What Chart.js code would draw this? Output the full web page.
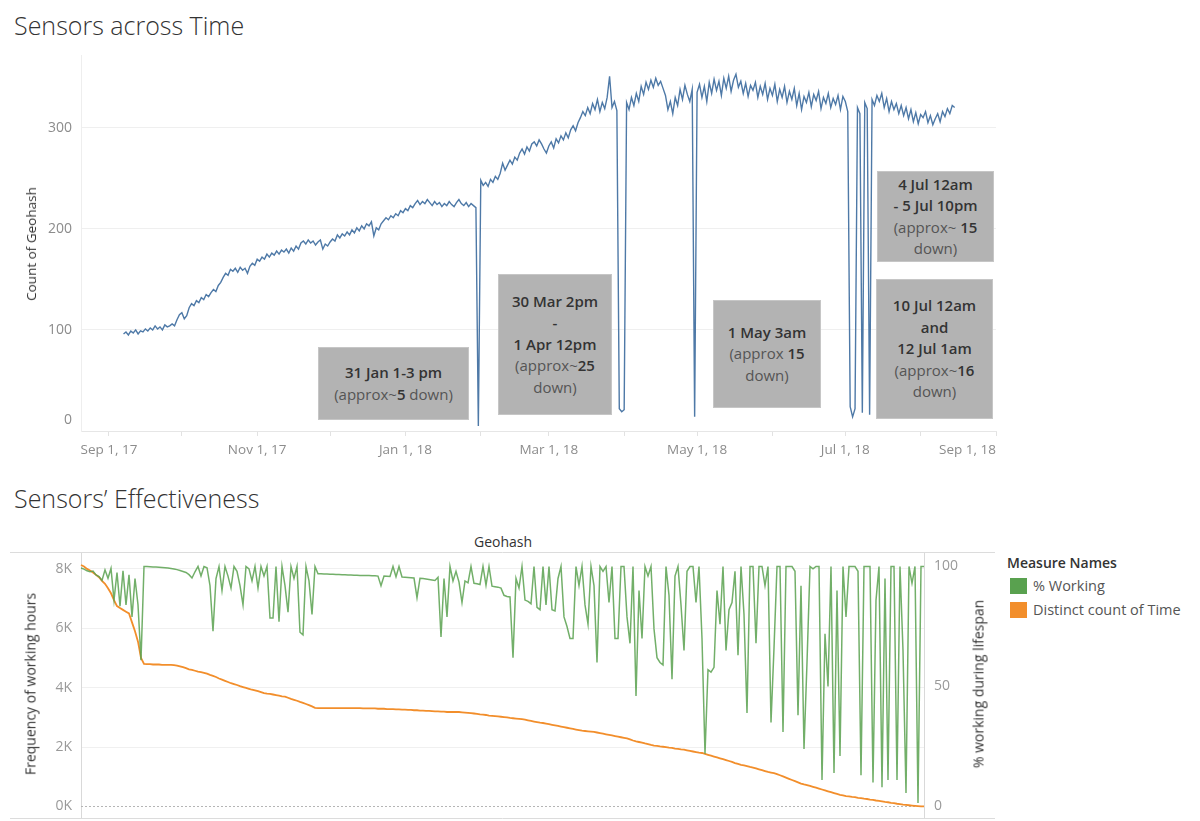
<!DOCTYPE html>
<html>
<head>
<meta charset="utf-8">
<title>Sensors</title>
<script src="https://cdn.jsdelivr.net/npm/chart.js@4.4.1/dist/chart.umd.min.js"></script>
<style>
    body {
        margin: 0;
        width: 1200px;
        height: 821px;
        background: #fff;
        font-family: "Open Sans", sans-serif;
        position: relative;
        overflow: hidden;
    }
    .title {
        position: absolute;
        left: 14px;
        font-size: 25px;
        line-height: 30px;
        color: #333;
        font-weight: 300;
    }
    #topWrap { position: absolute; left: 0; top: 40px; width: 1000px; height: 440px; }
    #bottomWrap { position: absolute; left: 0; top: 515px; width: 995px; height: 306px; }
    .axisTitle {
        position: absolute;
        font-size: 14px;
        color: #333;
        white-space: nowrap;
        transform: translate(-50%, -50%) rotate(-90deg);
    }
    .note {
        position: absolute;
        box-sizing: border-box;
        background: #b3b3b3;
        border: 1px solid #c6c6c6;
        display: flex;
        flex-direction: column;
        justify-content: center;
        align-items: center;
        text-align: center;
        font-size: 15px;
        line-height: 21.5px;
        color: #555;
    }
    .note b { color: #333; font-weight: 600; }
    .header { position: absolute; font-size: 14px; color: #333; transform: translate(-50%, -50%); }
    .legendTitle { position: absolute; left: 1007px; top: 553px; font-size: 14px; font-weight: 600; color: #333; }
    .swatch { position: absolute; left: 1010px; width: 17px; height: 16px; }
    .legendText { position: absolute; left: 1033px; font-size: 14.5px; color: #555; }
</style>
</head>
<body>

<div class="title" style="top: 10px;">Sensors across Time</div>
<div id="topWrap"><canvas id="timeChart"></canvas></div>
<div class="axisTitle" style="left: 31px; top: 244px; font-size: 13.5px;">Count of Geohash</div>

<div class="note" style="left: 318px; top: 347px; width: 151px; height: 73px;">
    <div><b>31 Jan 1-3 pm</b></div>
    <div>(approx~<b>5</b> down)</div>
</div>
<div class="note" style="left: 498px; top: 274px; width: 114px; height: 141px;">
    <div><b>30 Mar 2pm</b></div>
    <div><b>-</b></div>
    <div><b>1 Apr 12pm</b></div>
    <div>(approx~<b>25</b></div>
    <div>down)</div>
</div>
<div class="note" style="left: 713px; top: 300px; width: 108px; height: 108px;">
    <div><b>1 May 3am</b></div>
    <div>(approx <b>15</b></div>
    <div>down)</div>
</div>
<div class="note" style="left: 877px; top: 171px; width: 117px; height: 91px;">
    <div><b>4 Jul 12am</b></div>
    <div><b>- 5 Jul 10pm</b></div>
    <div>(approx~ <b>15</b></div>
    <div>down)</div>
</div>
<div class="note" style="left: 876px; top: 279px; width: 117px; height: 140px;">
    <div><b>10 Jul 12am</b></div>
    <div><b>and</b></div>
    <div><b>12 Jul 1am</b></div>
    <div>(approx~<b>16</b></div>
    <div>down)</div>
</div>

<div class="title" style="top: 483px;">Sensors’ Effectiveness</div>
<div class="header" style="left: 503px; top: 541px;">Geohash</div>
<div id="bottomWrap"><canvas id="effChart"></canvas></div>
<div class="axisTitle" style="left: 30px; top: 684px;">Frequency of working hours</div>
<div class="axisTitle" style="left: 978px; top: 684px;">% working during lifespan</div>

<div class="legendTitle">Measure Names</div>
<div class="swatch" style="top: 578px; background: #59a14f;"></div>
<div class="legendText" style="top: 576px;">% Working</div>
<div class="swatch" style="top: 602px; background: #f28e2b;"></div>
<div class="legendText" style="top: 600px;">Distinct count of Time</div>

<script>
// Sensors across Time: one value per day, first value on day 6 after Sep 1, 17
const firstDay = 6;
const sensorCounts = [
    96, 98, 95, 99, 97, 100, 96, 99, 98, 101,        // day 6
    99, 102, 100, 104, 101, 103, 100, 105, 103, 104,
    106, 104, 110, 115, 117, 111, 114, 122, 126, 124,
    129, 127, 132, 130, 135, 133, 137, 140, 138, 144,
    147, 152, 156, 154, 160, 158, 161, 157, 162, 159,
    161, 156, 163, 166, 164, 170, 168, 172, 170, 175, // day 56
    172, 176, 174, 178, 175, 179, 177, 180, 176, 181,
    178, 183, 180, 186, 188, 185, 189, 186, 188, 184,
    187, 189, 180, 185, 183, 187, 190, 188, 194, 191,
    195, 193, 197, 194, 199, 196, 201, 198, 203, 200,
    205, 203, 207, 193, 201, 199, 205, 208, 211, 209, // day 106
    213, 211, 215, 213, 218, 216, 220, 218, 223, 221,
    225, 228, 224, 227, 225, 229, 226, 223, 227, 224,
    226, 222, 225, 223, 227, 224, 222, 226, 229, 225,
    223, 226, 222, 225, 223, 221, 5, 248, 243, 246,
    242, 249, 246, 252, 249, 255, 265, 258, 263, 268, // day 156
    264, 271, 268, 275, 279, 274, 281, 277, 284, 286,
    282, 288, 284, 279, 275, 282, 286, 280, 289, 285,
    292, 288, 295, 290, 298, 302, 297, 305, 310, 316,
    312, 320, 314, 324, 318, 328, 316, 325, 319, 330,
    351, 320, 326, 317, 22, 19, 21, 325, 318, 330,    // day 206
    322, 334, 326, 341, 333, 345, 338, 347, 340, 349,
    342, 346, 339, 332, 318, 326, 314, 330, 322, 338,
    328, 342, 333, 326, 338, 14, 335, 343, 330, 341,
    326, 345, 334, 348, 337, 346, 332, 349, 339, 351,
    336, 347, 353, 340, 346, 334, 344, 331, 342, 337, // day 256
    345, 330, 341, 333, 344, 328, 339, 332, 343, 326,
    338, 330, 341, 325, 336, 328, 339, 322, 334, 318,
    331, 325, 335, 321, 333, 327, 336, 319, 330, 324,
    334, 320, 329, 323, 332, 318, 331, 326, 316, 24,
    14, 22, 320, 314, 18, 325, 319, 16, 328, 322,     // day 306
    332, 326, 334, 320, 329, 316, 326, 318, 324, 314,
    322, 312, 320, 309, 318, 306, 315, 304, 313, 310,
    316, 305, 312, 303, 309, 314, 306, 316, 311, 319,
    314, 322, 320
];
const monthTickDays = [0, 30, 61, 91, 122, 153, 181, 212, 242, 273, 303, 334, 365];
const labelDays = [0, 61, 122, 181, 242, 303, 365];
const tickLabels = ['Sep 1, 17', 'Nov 1, 17', 'Jan 1, 18', 'Mar 1, 18', 'May 1, 18', 'Jul 1, 18', 'Sep 1, 18'];
const countTicks = [0, 100, 200, 300];

// Sensors' Effectiveness: one value per geohash, sorted by distinct count of time
const percentWorking = [
    99.4, 98.9, 98.2, 97.8, 98.1, 96.5, 95.8, 94.2, 98.6, 95.1,
    99.2, 86, 97.5, 83.5, 98.2, 84, 96.5, 79, 95, 84,
    61, 100, 100, 99.9, 99.8, 99.8, 99.7, 99.6, 99.5, 99.4,
    99.2, 99, 98.7, 98.3, 97.9, 97.5, 96.6, 95.2, 97.8, 100,
    96, 100, 99.5, 92, 73, 95, 100, 90, 100, 96,
    91, 100, 98, 92, 84, 100, 99, 94, 100, 91,
    100, 96, 100, 78.5, 78.5, 100, 77, 100, 92, 81,
    100, 95, 100, 72.6, 71.5, 100, 94, 80, 100, 97,
    97, 96.9, 96.9, 96.8, 96.8, 96.7, 96.7, 96.6, 96.6, 96.5,
    96.5, 96.4, 96.4, 96.3, 96.3, 96.2, 96.2, 96.1, 96.1, 96,
    92, 96, 95.9, 95.8, 100, 95.7, 100, 95.6, 95.5, 95.4,
    95.3, 95.2, 87, 95.1, 95, 94.8, 94.6, 94.4, 94.2, 95.5,
    70.6, 95, 79, 100, 94, 98, 93.5, 85, 94, 93.2,
    100, 93, 92.8, 92.5, 100, 92.2, 100, 91.8, 91.6, 91.4,
    91, 88, 87.5, 87.3, 62, 95, 91, 100, 86, 85.5,
    84.5, 100, 83, 82, 100, 84, 100, 82, 81.5, 95,
    100, 79, 75, 70, 70, 100, 92, 100, 84, 76,
    100, 92, 60, 100, 98, 100, 85, 100, 70, 70,
    100, 100, 79, 68, 100, 46, 90, 70, 100, 96,
    100, 74, 62, 60, 59, 100, 88, 53, 96, 100,
    84, 65, 98, 100, 100, 85, 100, 70, 22, 57,
    56, 58, 90, 76, 100, 65, 82, 85, 98, 63,
    100, 80, 39, 100, 100, 68, 100, 100, 92, 100,
    35, 66, 100, 100, 31, 100, 100, 100, 98, 38,
    92, 24, 60, 100, 99, 100, 100, 11, 72, 50,
    100, 14, 90, 21, 100, 79, 100, 100, 100, 98,
    13, 100, 100, 100, 10, 86, 100, 8, 95, 11,
    100, 100, 11, 100, 65, 5.6, 100, 93, 100, 1.5,
    100, 100
];
const distinctTimeK = [
    8.13, 8.08, 8.0, 7.95, 7.88, 7.8, 7.72, 7.6, 7.5, 7.35,
    7.18, 6.95, 6.75, 6.68, 6.62, 6.56, 6.5, 6.2, 5.9, 5.55,
    5.0, 4.8, 4.79, 4.79, 4.78, 4.78, 4.78, 4.77, 4.77, 4.77,
    4.77, 4.76, 4.74, 4.72, 4.69, 4.66, 4.62, 4.60, 4.57, 4.54,
    4.52, 4.5, 4.47, 4.43, 4.40, 4.36, 4.31, 4.27, 4.23, 4.19,
    4.15, 4.12, 4.09, 4.05, 4.02, 3.99, 3.96, 3.93, 3.91, 3.88,
    3.85, 3.82, 3.80, 3.79, 3.77, 3.75, 3.73, 3.71, 3.70, 3.66,
    3.62, 3.59, 3.56, 3.52, 3.49, 3.45, 3.41, 3.37, 3.32, 3.31,
    3.31, 3.31, 3.31, 3.31, 3.31, 3.31, 3.31, 3.31, 3.31, 3.31,
    3.31, 3.31, 3.31, 3.31, 3.30, 3.30, 3.30, 3.30, 3.30, 3.29,
    3.29, 3.29, 3.28, 3.28, 3.28, 3.27, 3.27, 3.26, 3.26, 3.25,
    3.25, 3.24, 3.24, 3.23, 3.23, 3.22, 3.22, 3.21, 3.20, 3.20,
    3.19, 3.19, 3.18, 3.18, 3.18, 3.18, 3.18, 3.17, 3.16, 3.15,
    3.14, 3.13, 3.12, 3.10, 3.09, 3.08, 3.06, 3.05, 3.04, 3.03,
    3.02, 3.01, 3.00, 2.98, 2.97, 2.96, 2.95, 2.94, 2.92, 2.90,
    2.88, 2.86, 2.84, 2.82, 2.81, 2.79, 2.77, 2.75, 2.73, 2.71,
    2.69, 2.67, 2.65, 2.63, 2.61, 2.59, 2.57, 2.55, 2.54, 2.53,
    2.52, 2.51, 2.49, 2.47, 2.45, 2.43, 2.41, 2.39, 2.37, 2.35,
    2.33, 2.31, 2.29, 2.26, 2.22, 2.19, 2.17, 2.15, 2.12, 2.10,
    2.07, 2.05, 2.04, 2.02, 2.01, 2.00, 1.98, 1.97, 1.95, 1.94,
    1.92, 1.91, 1.89, 1.87, 1.85, 1.83, 1.81, 1.80, 1.77, 1.74,
    1.71, 1.68, 1.65, 1.62, 1.59, 1.56, 1.53, 1.50, 1.46, 1.43,
    1.40, 1.38, 1.36, 1.33, 1.31, 1.28, 1.25, 1.22, 1.19, 1.16,
    1.14, 1.12, 1.09, 1.05, 1.01, 0.97, 0.93, 0.89, 0.85, 0.81,
    0.77, 0.74, 0.72, 0.69, 0.66, 0.63, 0.60, 0.57, 0.54, 0.51,
    0.48, 0.45, 0.42, 0.39, 0.37, 0.35, 0.34, 0.32, 0.31, 0.29,
    0.28, 0.26, 0.25, 0.23, 0.22, 0.20, 0.19, 0.17, 0.15, 0.14,
    0.12, 0.11, 0.09, 0.08, 0.06, 0.05, 0.04, 0.03, 0.02, 0.01,
    0.0, 0.0
];
const hoursTicksK = [0, 2, 4, 6, 8];
const percentTicks = [0, 50, 100];

const TICK_FONT = '"Open Sans", sans-serif';

// Tick labels for the time chart, kept inside the plot like Tableau does
const timeLabelsPlugin = {
    id: 'timeLabels',
    afterDraw(chart) {
        const { ctx, chartArea } = chart;
        const x = chart.scales.x;
        const y = chart.scales.y;
        ctx.save();
        ctx.font = '13.5px ' + TICK_FONT;
        ctx.fillStyle = '#8c8c8c';
        ctx.textBaseline = 'middle';
        ctx.textAlign = 'center';
        labelDays.forEach((d, i) => {
            const w = ctx.measureText(tickLabels[i]).width;
            const px = Math.min(x.getPixelForValue(d), chartArea.right - w / 2);
            ctx.fillText(tickLabels[i], px, chartArea.bottom + 19);
        });
        ctx.font = '14px ' + TICK_FONT;
        ctx.textAlign = 'right';
        countTicks.forEach(v => {
            const py = Math.min(y.getPixelForValue(v), chartArea.bottom - 11);
            ctx.fillText(String(v), chartArea.left - 9, py);
        });
        ctx.restore();
    }
};

function setupTimeChart() {
    const ctx = document.getElementById('timeChart').getContext('2d');
    new Chart(ctx, {
        type: 'line',
        data: {
            datasets: [{
                label: 'Count of Geohash',
                data: sensorCounts.map((v, i) => ({ x: firstDay + i, y: v })),
                borderColor: '#4e79a7',
                borderWidth: 1.4,
                pointRadius: 0,
                tension: 0,
                fill: false
            }]
        },
        options: {
            responsive: true,
            maintainAspectRatio: false,
            animation: false,
            layout: { padding: { top: 15, right: 4 } },
            plugins: { legend: { display: false }, tooltip: { enabled: false } },
            scales: {
                x: {
                    type: 'linear',
                    min: -11.5,
                    max: 365,
                    afterBuildTicks: s => { s.ticks = monthTickDays.map(v => ({ value: v })); },
                    afterFit: s => { s.height = 49; },
                    ticks: { display: false },
                    grid: { drawOnChartArea: false, drawTicks: true, tickLength: 5, tickColor: '#e2e2e2' },
                    border: { color: '#e6e6e6' }
                },
                y: {
                    min: 0,
                    max: 372,
                    afterBuildTicks: s => { s.ticks = countTicks.map(v => ({ value: v })); },
                    afterFit: s => { s.width = 81; },
                    ticks: { display: false },
                    grid: {
                        drawTicks: false,
                        color: c => (c.tick && c.tick.value === 0) ? 'rgba(0,0,0,0)' : '#efefef'
                    },
                    border: { color: '#eeeeee' }
                }
            }
        },
        plugins: [timeLabelsPlugin]
    });
}

// Frame lines of the Tableau pane and the dotted zero line
const paneFramePlugin = {
    id: 'paneFrame',
    beforeDatasetsDraw(chart) {
        const { ctx, chartArea } = chart;
        const zeroY = chart.scales.yL.getPixelForValue(0);
        ctx.save();
        ctx.strokeStyle = '#b5b5b5';
        ctx.lineWidth = 1;
        ctx.setLineDash([2, 2]);
        ctx.beginPath();
        ctx.moveTo(chartArea.left, Math.round(zeroY) + 0.5);
        ctx.lineTo(chartArea.right, Math.round(zeroY) + 0.5);
        ctx.stroke();
        ctx.setLineDash([]);
        ctx.strokeStyle = '#dcdcdc';
        ctx.beginPath();
        ctx.moveTo(10, chartArea.top + 0.5);
        ctx.lineTo(chart.width, chartArea.top + 0.5);
        ctx.moveTo(10, chartArea.bottom + 0.5);
        ctx.lineTo(chart.width, chartArea.bottom + 0.5);
        ctx.stroke();
        ctx.restore();
    }
};

// fixed axis width, and no extra room reserved for edge labels
function fixAxis(width) {
    return s => {
        s.width = width;
        s.paddingTop = 0;
        s.paddingBottom = 0;
    };
}

function setupEffectivenessChart() {
    const ctx = document.getElementById('effChart').getContext('2d');
    new Chart(ctx, {
        type: 'line',
        data: {
            labels: percentWorking.map((_, i) => i),
            datasets: [{
                label: '% Working',
                data: percentWorking,
                yAxisID: 'yR',
                borderColor: 'rgba(89, 161, 79, 0.85)',
                borderWidth: 1.5,
                pointRadius: 0,
                tension: 0
            }, {
                label: 'Distinct count of Time',
                data: distinctTimeK,
                yAxisID: 'yL',
                borderColor: '#f28e2b',
                borderWidth: 1.8,
                pointRadius: 0,
                tension: 0
            }]
        },
        options: {
            responsive: true,
            maintainAspectRatio: false,
            animation: false,
            layout: { padding: { top: 37, bottom: 3 } },
            plugins: { legend: { display: false }, tooltip: { enabled: false } },
            scales: {
                x: { type: 'category', display: false, offset: false },
                yL: {
                    position: 'left',
                    min: -0.39,
                    max: 8.57,
                    afterBuildTicks: s => { s.ticks = hoursTicksK.map(v => ({ value: v })); },
                    afterFit: fixAxis(81),
                    ticks: { callback: v => v + 'K', color: '#999', font: { size: 14, family: TICK_FONT }, padding: 9 },
                    grid: {
                        drawTicks: false,
                        color: c => (c.tick && c.tick.value === 0) ? 'rgba(0,0,0,0)' : '#f0f0f0'
                    },
                    border: { color: '#d9d9d9' }
                },
                yR: {
                    position: 'right',
                    min: -4.79,
                    max: 106.04,
                    afterBuildTicks: s => { s.ticks = percentTicks.map(v => ({ value: v })); },
                    afterFit: fixAxis(71),
                    ticks: { color: '#999', font: { size: 14, family: TICK_FONT }, padding: 10 },
                    grid: { drawOnChartArea: false, drawTicks: false },
                    border: { color: '#d9d9d9' }
                }
            }
        },
        plugins: [paneFramePlugin]
    });
}

document.addEventListener('DOMContentLoaded', () => {
    setupTimeChart();
    setupEffectivenessChart();
});
</script>
</body>
</html>
